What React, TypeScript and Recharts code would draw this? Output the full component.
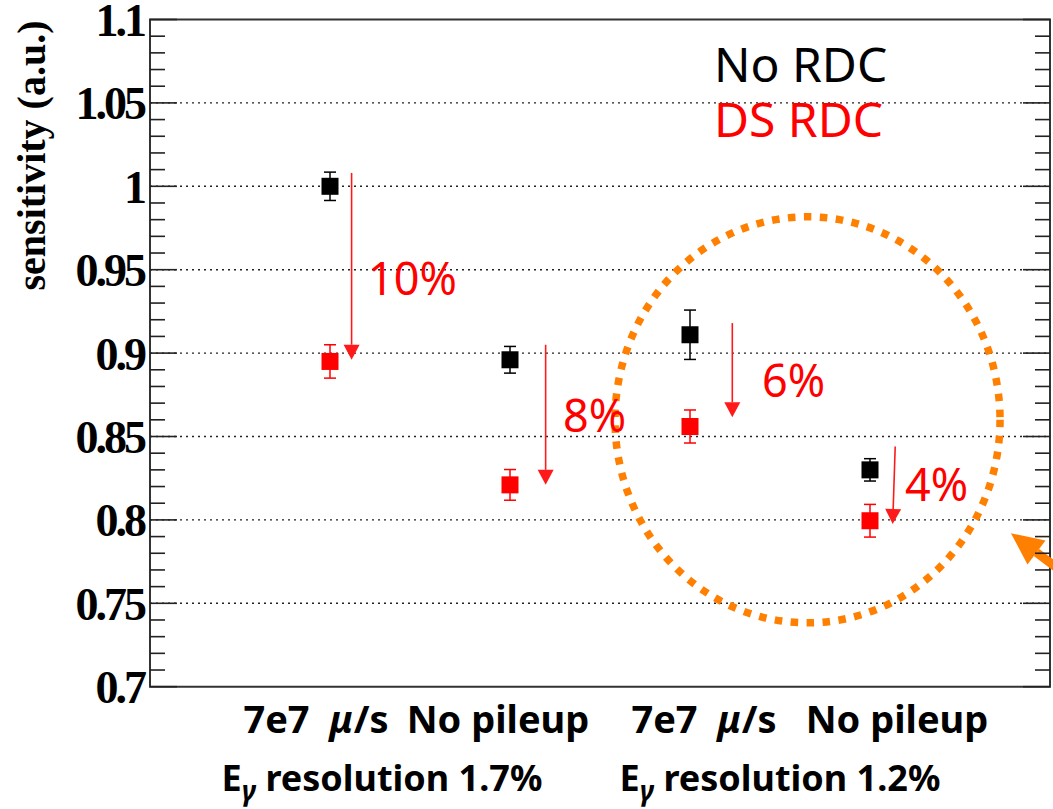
import React from "react";
import { ScatterChart, Scatter, ErrorBar, XAxis, YAxis, ReferenceLine, ReferenceArea, ReferenceDot } from "recharts";

// values
const categories = ["7e7 μ/s", "No pileup", "7e7 μ/s", "No pileup"];
const groupLabels = ["Eγ resolution 1.7%", "Eγ resolution 1.2%"];
const groupCenters = [1.5, 3.5];
const noRdc = [1.0, 0.896, 0.911, 0.83];
const noRdcErr = [0.0085, 0.008, 0.0148, 0.0067];
const dsRdc = [0.895, 0.821, 0.856, 0.7995];
const dsRdcErr = [0.01, 0.0092, 0.0099, 0.0098];
const majorTicks = [0.7, 0.75, 0.8, 0.85, 0.9, 0.95, 1.0, 1.05, 1.1];

// drop arrows (x in category units, y in sensitivity)
const dropLabels = ["10%", "8%", "6%", "4%"];
const arrowXStart = [1.12, 2.198, 3.235, 4.14];
const arrowXEnd = [1.12, 2.198, 3.235, 4.126];
const arrowFrom = [1.008, 0.905, 0.918, 0.844];
const arrowTo = [0.896, 0.821, 0.8615, 0.7975];
const labelX = [1.211, 2.294, 3.4, 4.194];
const labelY = [0.9348, 0.8527, 0.8737, 0.8113];

const W = 1053;
const H = 809;
const PLOT_W = 900;

const minorTicks: number[] = [];
majorTicks.forEach((v, i) => {
  if (i === majorTicks.length - 1) { minorTicks.push(v); return; }
  for (let k = 0; k < 5; k++) minorTicks.push(Math.round((v + k * 0.01) * 100) / 100);
});

const noRdcData = categories.map((c, i) => ({ x: i + 1, y: noRdc[i], err: noRdcErr[i] }));
const dsRdcData = categories.map((c, i) => ({ x: i + 1, y: dsRdc[i], err: dsRdcErr[i] }));

const isMajor = (v: number) => Math.abs(v * 20 - Math.round(v * 20)) < 1e-6;

const YTick = (props: any) => {
  const { x, y, payload } = props;
  const v = payload.value;
  const major = isMajor(v);
  const len = major ? 27 : 15;
  return (
    <g>
      <line x1={x} x2={x + len} y1={y} y2={y} stroke="#222" strokeWidth={1.6} />
      <line x1={x + PLOT_W - len} x2={x + PLOT_W} y1={y} y2={y} stroke="#222" strokeWidth={1.6} />
      {major && (
        <text x={x - 6} y={y + 1} textAnchor="end" dominantBaseline="central"
          fontFamily="'Liberation Serif', 'Times New Roman', serif" fontWeight="bold" fontSize={46} letterSpacing={-3} fill="#000">
          {String(Math.round(v * 100) / 100)}
        </text>
      )}
    </g>
  );
};

const catShift = [-14, -12, 14, 27];
const XTick = (props: any) => {
  const { x, y, index } = props;
  const label = categories[index] ?? "";
  const parts = label.split("μ");
  return (
    <text x={x + (catShift[index] ?? 0)} y={y + 46} textAnchor="middle" fontFamily="'Noto Sans', sans-serif"
      fontWeight="bold" fontSize={38} fill="#000" style={{ whiteSpace: "pre" }}>
      {parts.length > 1 ? (
        <>
          {parts[0] + " "}
          <tspan fontStyle="italic">μ</tspan>
          {parts[1]}
        </>
      ) : label}
    </text>
  );
};

const groupShift = [-38, 0];
const GroupLabel = (props: any) => {
  const { cx, cy, index } = props;
  const label = groupLabels[index] ?? "";
  return (
    <text x={cx + (groupShift[index] ?? 0)} y={cy + 104} textAnchor="middle" fontFamily="'Noto Sans', sans-serif"
      fontWeight="bold" fontSize={36} fill="#000" style={{ whiteSpace: "pre" }}>
      {label[0]}
      <tspan fontSize={28} fontStyle="italic" dy={10}>{label[1]}</tspan>
      <tspan dy={-10}>{label.slice(2)}</tspan>
    </text>
  );
};

const ArrowShape = (props: any) => {
  const { x1, y1, x2, y2, color, shaft, head, half } = props;
  const dx = x2 - x1;
  const dy = y2 - y1;
  const d = Math.sqrt(dx * dx + dy * dy) || 1;
  const ux = dx / d;
  const uy = dy / d;
  const bx = x2 - ux * head;
  const by = y2 - uy * head;
  const nx = -uy * half;
  const ny = ux * half;
  return (
    <g>
      <line x1={x1} y1={y1} x2={bx} y2={by} stroke={color} strokeWidth={shaft} />
      <polygon points={`${x2},${y2} ${bx + nx},${by + ny} ${bx - nx},${by - ny}`} fill={color} />
    </g>
  );
};

const square = (color: string) => (p: any) => (
  <rect x={p.cx - 8.5} y={p.cy - 8.5} width={17} height={17} fill={color} />
);

const YTitle = (props: any) => {
  const vb = props.viewBox || { x: 0, y: 19.5 };
  return (
    <text transform={`translate(${vb.x + 45}, ${vb.y + 1}) rotate(-90)`} textAnchor="end"
      fontFamily="'Liberation Serif', 'Times New Roman', serif" fontWeight="bold" fontSize={40} letterSpacing={0} fill="#000">
      sensitivity (a.u.)
    </text>
  );
};

export default function App() {
  return (
    <div style={{ position: "absolute", left: 0, top: 0, width: W, height: H, background: "#fff" }}>
      <ScatterChart width={W} height={H} margin={{ top: 19.5, right: 3, bottom: 0, left: 0 }}>
        <XAxis dataKey="x" type="number" domain={[0, 5]} ticks={[1, 2, 3, 4]} interval={0} height={122.3}
          axisLine={false} tickLine={false} tickSize={0} tickMargin={0} tick={<XTick />} />
        <YAxis dataKey="y" type="number" domain={[0.7, 1.1]} ticks={minorTicks} interval={0} width={150}
          axisLine={false} tickLine={false} tickSize={0} tickMargin={0} tick={<YTick />} label={<YTitle />} />

        {majorTicks.slice(1, -1).map((v) => (
          <ReferenceLine key={v} y={v} stroke="#222" strokeWidth={1.4} strokeDasharray="2 4" />
        ))}
        <ReferenceArea x1={0} x2={5} y1={0.7} y2={1.1} fill="none" fillOpacity={0} stroke="#333" strokeWidth={2} />

        <ReferenceDot x={3.653} y={0.86} r={0} ifOverflow="visible"
          shape={(p: any) => (
            <ellipse cx={p.cx} cy={p.cy} rx={192.5} ry={203} fill="none" stroke="#ff8000" strokeWidth={7.5} strokeDasharray="7.5 8.5" />
          )} />
        <ReferenceLine ifOverflow="visible" segment={[{ x: 5.3, y: 0.75 }, { x: 4.783, y: 0.792 }]}
          shape={(p: any) => <ArrowShape {...p} color="#ff8000" shaft={9} head={32} half={15} />} />

        {dropLabels.map((t, i) => (
          <ReferenceLine key={"a" + i} ifOverflow="visible"
            segment={[{ x: arrowXStart[i], y: arrowFrom[i] }, { x: arrowXEnd[i], y: arrowTo[i] }]}
            shape={(p: any) => <ArrowShape {...p} color="#ff1a1a" shaft={1.6} head={15} half={8} />} />
        ))}
        {dropLabels.map((t, i) => (
          <ReferenceDot key={"l" + i} x={labelX[i]} y={labelY[i]} r={0} ifOverflow="visible"
            shape={(p: any) => (
              <text x={p.cx} y={p.cy} fontFamily="'Noto Sans', sans-serif" fontSize={45} fill="#ff0000">{t}</text>
            )} />
        ))}
        {groupCenters.map((g, i) => (
          <ReferenceDot key={"g" + i} x={g} y={0.7} r={0} ifOverflow="visible"
            shape={(p: any) => <GroupLabel {...p} index={i} />} />
        ))}

        <Scatter name="No RDC" data={noRdcData} fill="#000" shape={square("#000")} isAnimationActive={false}>
          <ErrorBar dataKey="err" direction="y" width={6} stroke="#000" strokeWidth={1.5} isAnimationActive={false} />
        </Scatter>
        <Scatter name="DS RDC" data={dsRdcData} fill="#ff0000" shape={square("#ff0000")} isAnimationActive={false}>
          <ErrorBar dataKey="err" direction="y" width={6} stroke="#ff0000" strokeWidth={1.5} isAnimationActive={false} />
        </Scatter>
      </ScatterChart>
      <div style={{ position: "absolute", left: 714, top: 35.6, fontFamily: "'Noto Sans', sans-serif", fontSize: 48, lineHeight: "55px", whiteSpace: "nowrap" }}>
        <div style={{ color: "#000" }}>No RDC</div>
        <div style={{ color: "#ff0000" }}>DS RDC</div>
      </div>
    </div>
  );
}
